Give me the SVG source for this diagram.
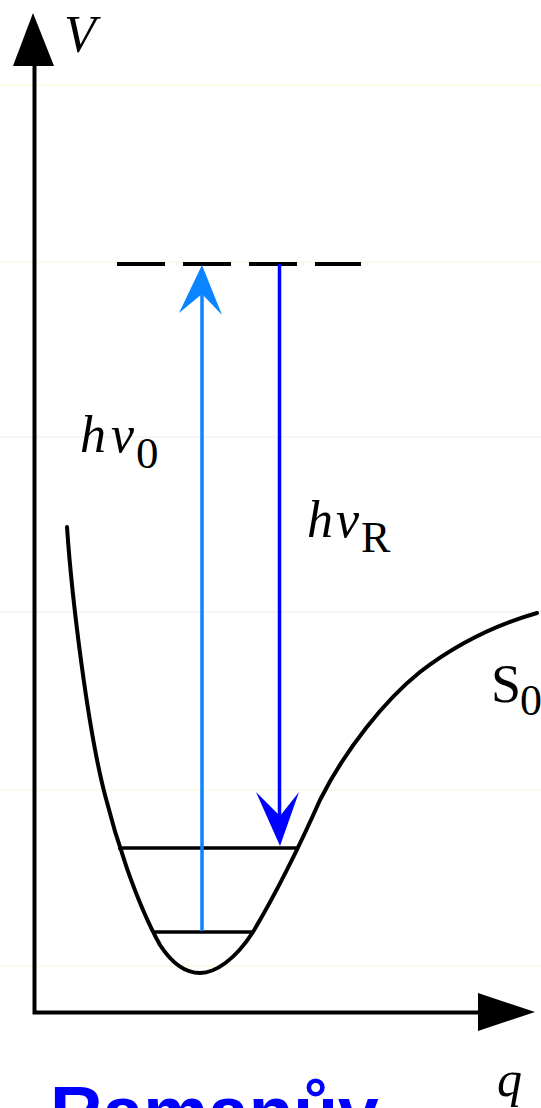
<svg xmlns="http://www.w3.org/2000/svg" width="541" height="1108" viewBox="0 0 541 1108">
  <style>
    .faint-y { stroke: #fbf8cc; stroke-width: 1; }
    .faint-g { stroke: #ececec; stroke-width: 1; }
    .axis { stroke: #000; stroke-width: 4; fill: none; }
    .curve { stroke: #000; stroke-width: 4; fill: none; stroke-linejoin: round; stroke-linecap: round; }
    .level { stroke: #000; stroke-width: 3.5; }
    .serif { font-family: "Liberation Serif", "Times New Roman", serif; fill: #000; }
    .it { font-style: italic; }
  </style>
  <rect width="541" height="1108" fill="#fff"/>
  <g id="background-lines">
    <line class="faint-y" x1="0" y1="85" x2="541" y2="85"/>
    <line class="faint-y" x1="0" y1="262" x2="541" y2="262"/>
    <line class="faint-g" x1="0" y1="437" x2="541" y2="437"/>
    <line class="faint-g" x1="0" y1="612" x2="541" y2="612"/>
    <line class="faint-y" x1="0" y1="790" x2="541" y2="790"/>
    <line class="faint-y" x1="0" y1="966" x2="541" y2="966"/>
  </g>
  <g id="axes">
    <polyline class="axis" points="34.5,62 34.5,1012.5 480,1012.5"/>
    <polygon points="33,13 13,66 54,66" fill="#000"/>
    <polygon points="535,1012 478,993 478,1031" fill="#000"/>
    <text class="serif it" x="64" y="52" font-size="52">V</text>
    <text class="serif it" x="497" y="1096" font-size="50">q</text>
  </g>
  <g id="potential-curve">
    <path class="curve" d="M67,527 C72,600 88,730 105,795 C115,835 135,900 160,945 C175,968 190,973 200,973 C215,973 235,960 253,932 C275,895 300,845 320,800 C345,750 385,700 420,672 C455,645 495,625 537,613"/>
    <text class="serif" x="491" y="702" font-size="54">S</text>
    <text class="serif" x="520" y="715" font-size="44">0</text>
  </g>
  <g id="levels">
    <line class="level" x1="118" y1="848" x2="297" y2="848"/>
    <line class="level" x1="153" y1="932" x2="253" y2="932"/>
    <line x1="117" y1="264" x2="361" y2="264" stroke="#000" stroke-width="4" stroke-dasharray="48 18"/>
  </g>
  <g id="connectors">
    <line x1="202" y1="931" x2="202" y2="290" stroke="#0A85FF" stroke-width="3.5"/>
    <polygon points="202,265 222,315 202,294 179,313" fill="#0A85FF"/>
    <line x1="279.5" y1="264" x2="279.5" y2="820" stroke="#0000FF" stroke-width="3.5"/>
    <polygon points="280,846 299,792 280,816 256,792" fill="#0000FF"/>
  </g>
  <g id="label-hv0">
    <text class="serif it" x="80" y="452" font-size="52">h</text>
    <text class="serif it" x="111" y="452" font-size="52">ν</text>
    <text class="serif" x="136" y="468" font-size="45">0</text>
  </g>
  <g id="label-hvR">
    <text class="serif it" x="307" y="537" font-size="52">h</text>
    <text class="serif it" x="336" y="537" font-size="52">ν</text>
    <text class="serif" x="361" y="552" font-size="44">R</text>
  </g>
  <g id="caption">
    <text x="50" y="1137" font-family="Liberation Sans, Arial, sans-serif" font-weight="bold" font-size="73" fill="#0000FF">Ramanův</text>
  </g>
</svg>
